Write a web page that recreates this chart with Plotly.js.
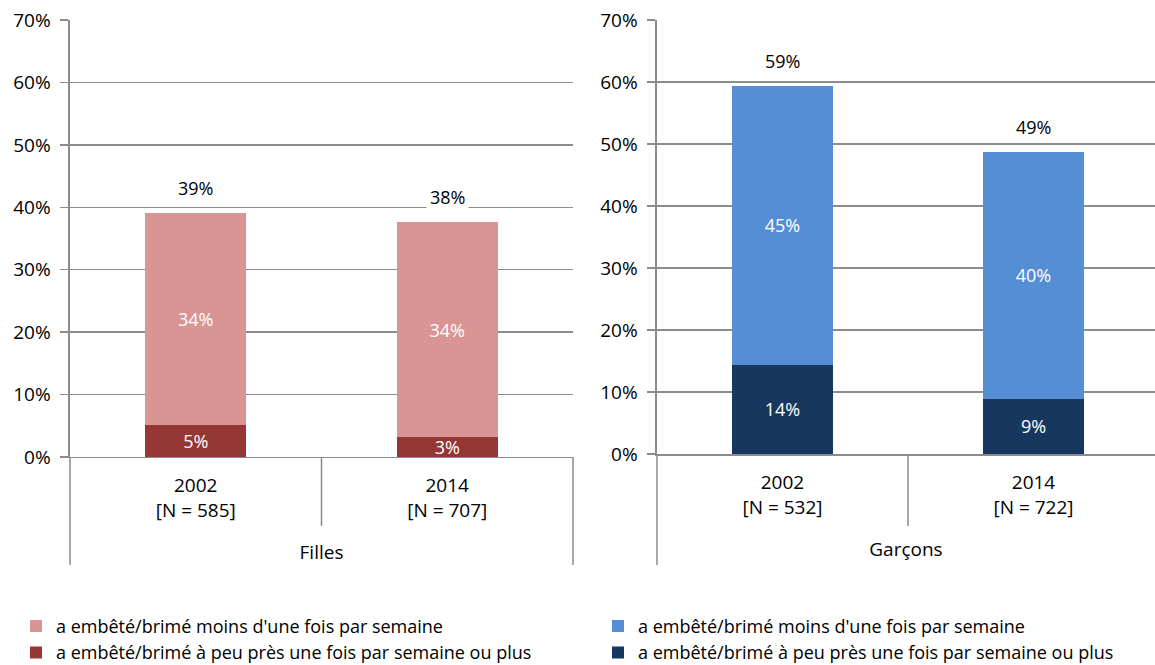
<!DOCTYPE html>
<html>
<head>
<meta charset="utf-8">
<script src="https://cdn.plot.ly/plotly-3.0.1.min.js"></script>
<style>html,body{margin:0;padding:0;background:#fff;}#chart{width:1155px;height:665px;}</style>
</head>
<body>
<div id="chart"></div>
<script>
// ---- data ----
var catsFilles = ['2002<br>[N = 585]', '2014<br>[N = 707]'];
var catsGarcons = ['2002<br>[N = 532]', '2014<br>[N = 722]'];
var groupFilles = 'Filles';
var groupGarcons = 'Garçons';
var nameLess = "a embêté/brimé moins d'une fois par semaine";
var nameMore = 'a embêté/brimé à peu près une fois par semaine ou plus';
var fillesMore = [5.1, 3.2];
var fillesLess = [34.0, 34.4];
var garconsMore = [14.4, 8.9];
var garconsLess = [45.0, 39.8];
var yTickVals = [0, 10, 20, 30, 40, 50, 60, 70];
var yTickText = yTickVals.map(function (v) { return v + '%'; });

// ---- styles ----
var FONT = '"Open Sans", Lato, sans-serif';
var GRID = '#8c8c8c';
var colLessF = '#D99594', colMoreF = '#953735';
var colLessG = '#558ED5', colMoreG = '#17375E';

function barTrace(x, y, name, color, xa, ya, leg) {
  return {
    type: 'bar', x: x, y: y, name: name, xaxis: xa, yaxis: ya, legend: leg,
    marker: {color: color, line: {width: 0}},
    texttemplate: '%{y:.0f}%', textposition: 'inside', insidetextanchor: 'middle',
    constraintext: 'none', textangle: 0,
    textfont: {family: FONT, size: 18, color: '#ffffff'},
    hoverinfo: 'skip'
  };
}

var data = [
  barTrace(catsFilles, fillesMore, nameMore, colMoreF, 'x', 'y', 'legend'),
  barTrace(catsFilles, fillesLess, nameLess, colLessF, 'x', 'y', 'legend'),
  barTrace(catsGarcons, garconsMore, nameMore, colMoreG, 'x2', 'y2', 'legend2'),
  barTrace(catsGarcons, garconsLess, nameLess, colLessG, 'x2', 'y2', 'legend2')
];

var annotations = [];
function totals(cats, a, b, xa, ya) {
  for (var i = 0; i < cats.length; i++) {
    var t = a[i] + b[i];
    annotations.push({
      x: cats[i], y: t, xref: xa, yref: ya, yanchor: 'bottom',
      text: Math.round(t) + '%', showarrow: false, yshift: 9,
      bgcolor: '#ffffff', borderpad: 3,
      font: {family: FONT, size: 18, color: '#000000'}
    });
  }
}
totals(catsFilles, fillesMore, fillesLess, 'x', 'y');
totals(catsGarcons, garconsMore, garconsLess, 'x2', 'y2');

function yAxis(domain, anchor) {
  return {
    domain: domain, anchor: anchor, range: [0, 70],
    tickmode: 'array', tickvals: yTickVals, ticktext: yTickText,
    showgrid: true, gridcolor: GRID, gridwidth: 1.5,
    zeroline: false, showline: true, linecolor: GRID, linewidth: 1.5,
    ticks: 'outside', ticklen: 8, tickcolor: GRID, tickwidth: 1.5,
    ticklabelstandoff: 6, automargin: false,
    tickfont: {family: FONT, size: 19, color: '#000000'}, fixedrange: true
  };
}
function xAxis(domain, anchor, range, title) {
  return {
    domain: domain, anchor: anchor, type: 'category', range: range,
    showgrid: false, zeroline: false, showline: true, linecolor: GRID, linewidth: 1.5,
    ticks: '', ticklabelstandoff: 11, automargin: false,
    tickfont: {family: FONT, size: 19, color: '#000000'},
    title: {text: title, standoff: 23, font: {family: FONT, size: 19, color: '#000000'}},
    fixedrange: true
  };
}

// shape lines for the category dividers
var shapes = [];
function vline(xref, xd, y0, y1) {
  shapes.push({type: 'line', xref: xref, yref: 'paper', x0: xd, x1: xd, y0: y0, y1: y1,
    line: {color: GRID, width: 1.5}});
}
var rightRange = [-0.5, 1.484];
var yBottomL = 0.3225, yBottomR = 0.3271, yLong = 0.155, yShort = 0.2155;
vline('x domain', 0, yLong, yBottomL);
vline('x domain', 0.5, yShort, yBottomL);
vline('x domain', 1, yLong, yBottomL);
vline('x2 domain', 0, yLong, yBottomR);
vline('x2 domain', (0.5 - rightRange[0]) / (rightRange[1] - rightRange[0]), yShort, yBottomR);

var legendBase = {y: -0.009, xanchor: 'left', yanchor: 'bottom', traceorder: 'reversed',
  bgcolor: 'rgba(0,0,0,0)', font: {family: FONT, size: 18, color: '#000000'}};
var layout = {
  width: 1155, height: 665,
  margin: {l: 0, r: 0, t: 20, b: 0, autoexpand: false},
  paper_bgcolor: '#ffffff', plot_bgcolor: '#ffffff',
  barmode: 'stack', bargap: 0.6,
  font: {family: FONT, size: 18, color: '#000000'},
  xaxis: xAxis([0.0606, 0.4961], 'y', [-0.5, 1.5], groupFilles),
  yaxis: yAxis([yBottomL, 1], 'x'),
  xaxis2: xAxis([0.5688, 1], 'y2', rightRange, groupGarcons),
  yaxis2: yAxis([yBottomR, 1], 'x2'),
  legend: Object.assign({x: 16 / 1155}, legendBase),
  legend2: Object.assign({x: 598 / 1155}, legendBase),
  annotations: annotations,
  shapes: shapes,
  showlegend: true
};

Plotly.newPlot('chart', data, layout, {displayModeBar: false, staticPlot: true});
</script>
</body>
</html>
